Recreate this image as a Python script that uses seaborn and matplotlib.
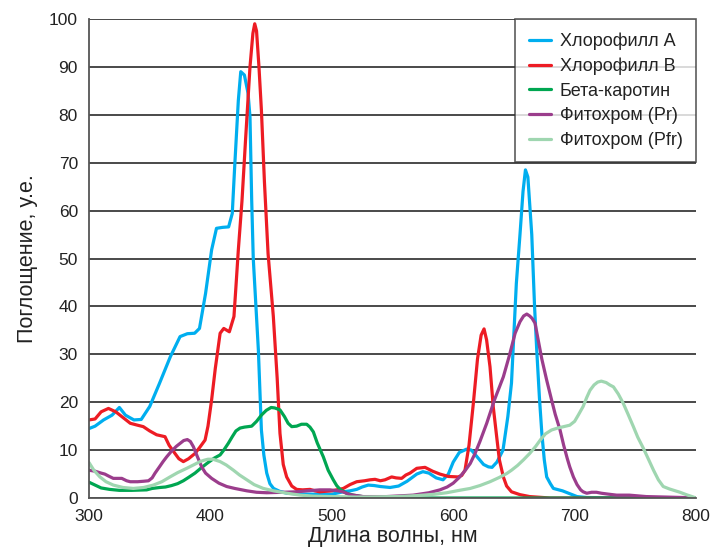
import matplotlib
matplotlib.use("Agg")
import matplotlib.pyplot as plt
import seaborn as sns
import pandas as pd

# wavelength (nm) / absorbance (a.u.)
wl_a = [300, 305, 312, 319, 325, 330, 337, 343, 350, 358, 367, 375, 381, 387, 391, 396, 401, 405,
        410, 415, 418, 420, 423, 425, 428, 431, 432.6, 434, 435.3, 437.5, 439.5, 442, 444, 446.4,
        449, 452, 457, 463, 470, 480, 490, 500, 509.5, 515, 520.5, 525, 530, 535, 540, 548, 555,
        562, 570, 575, 580, 586, 591.6, 596, 600, 605, 611, 615, 620, 625, 629, 632, 636, 641,
        645, 648, 652, 655, 657.5, 659.5, 661.5, 664.7, 667, 668.8, 671, 673, 675, 677, 680,
        682.5, 690, 697, 702, 710, 750, 800]
abs_a = [14.5, 15, 16.3, 17.3, 18.9, 17.3, 16.3, 16.4, 19.1, 23.9, 29.5, 33.7, 34.3, 34.4, 35.4,
         42.7, 51.8, 56.3, 56.5, 56.6, 59.4, 69.2, 83, 89, 88.3, 84.5, 79.6, 62.2, 50, 40, 30.9,
         14.2, 9, 5.2, 3, 2, 1.4, 1, 0.9, 0.8, 0.8, 0.8, 1.3, 1.5, 1.8, 2.3, 2.7, 2.6, 2.4, 2.2,
         2.5, 3.5, 5, 5.5, 5.2, 4.2, 3.8, 5, 7.5, 9.5, 10.2, 10, 8.5, 7, 6.5, 6.4, 7.5, 10, 17,
         24, 44.8, 55, 64, 68.5, 67, 55, 40, 30.9, 21, 13.5, 8, 4.4, 3, 2.0, 1.5, 0.8, 0.3, 0.1,
         0, 0]

wl_b = [300, 305, 310, 316, 322, 328, 334, 340, 344.7, 350, 355.7, 362.6, 366, 370.8, 374, 377.7,
        382, 387.3, 391, 395.6, 398, 401, 404, 408, 411, 415.6, 419.4, 421, 423, 426, 429, 432.6,
        435, 436.5, 438, 440, 442, 444.5, 447.5, 451.8, 455, 457.3, 460, 462.8, 467, 471, 476, 482,
        486, 490, 500, 509.5, 515, 520.5, 527, 531.5, 535.6, 540, 543.8, 549.3, 553, 557.5, 561,
        564.4, 570, 576.8, 583, 589, 596, 604, 607, 609.7, 613, 616.6, 620, 623, 625.4, 627.5,
        630.3, 633, 635.8, 638, 641.3, 644, 648, 655, 663, 680, 800]
abs_b = [16.3, 16.5, 18, 18.7, 18, 16.8, 15.6, 15.2, 14.9, 14, 13.2, 12.8, 11, 9.3, 8.2, 7.6, 8.2,
         9.3, 10.5, 12.1, 15, 20.5, 27, 34.4, 35.4, 34.7, 37.9, 44, 51.8, 62, 75, 90, 97, 99, 97.5,
         90, 81, 66, 51, 38, 25, 13.5, 7, 4.4, 2.5, 1.8, 1.7, 1.8, 1.5, 1.3, 1.5, 2.0, 2.8, 3.4,
         3.6, 3.8, 3.9, 3.6, 3.8, 4.4, 4.2, 4.1, 4.8, 5.2, 6.2, 6.4, 5.6, 5.0, 4.5, 4.4, 4.7, 5.8,
         11, 19.8, 29, 34, 35.3, 33, 27.4, 19, 12.8, 8, 4.4, 2.5, 1.3, 0.7, 0.3, 0, 0]

wl_car = [300, 305, 310, 317, 325, 335, 347.5, 352, 358.5, 363, 368, 373, 377.7, 382, 387.3, 392,
          397, 403, 408, 411, 414.7, 418, 421, 424.4, 428, 434, 438, 442, 446, 450, 453, 457.3,
          461, 464, 467, 471, 475, 479.3, 482, 484.8, 488, 493, 497, 501.2, 504, 506.8, 512,
          517.7, 525, 540, 560, 800]
abs_car = [3.3, 2.7, 2.1, 1.8, 1.6, 1.6, 1.7, 2.0, 2.2, 2.3, 2.6, 3.0, 3.6, 4.3, 5.2, 6.2, 7.2,
           8.3, 9.0, 10, 11.4, 12.8, 14, 14.6, 14.8, 15.0, 16, 17.3, 18.3, 18.9, 18.8, 18.4, 17,
           15.6, 14.9, 15, 15.4, 15.4, 14.8, 13.8, 11.5, 8.6, 5.8, 3.8, 2.6, 1.8, 1.0, 0.6, 0.3,
           0.1, 0, 0]

wl_pr = [300, 305, 310, 313, 316, 320, 327, 331, 334, 340, 345, 349, 352, 354.4, 358, 361, 364,
         368, 372, 375, 378, 381, 383.5, 386, 389, 392.8, 396, 401, 407, 413.4, 420, 430, 438,
         446.4, 460, 471, 480, 490, 498.5, 505, 509, 515, 526, 545, 567, 580, 589, 595, 600, 605,
         610, 614, 618, 622, 627.6, 634, 641.3, 646, 651, 655, 658, 660.6, 663, 665, 667.4, 670,
         673, 677, 681, 684, 688, 691, 694, 696, 699, 702, 705, 707, 710, 714, 718, 722, 728,
         734.6, 745, 759, 775, 790, 800]
abs_pr = [5.8, 5.6, 5.2, 5.0, 4.6, 4.1, 4.1, 3.6, 3.4, 3.4, 3.5, 3.6, 4.2, 5.2, 6.5, 7.6, 8.6,
          9.8, 10.8, 11.4, 12.0, 12.2, 11.8, 10.7, 8.8, 6.5, 5.2, 4.1, 3.1, 2.4, 2.0, 1.5, 1.2,
          1.1, 1.2, 1.3, 1.5, 1.7, 1.7, 1.5, 1.3, 0.7, 0.3, 0.3, 0.6, 1.1, 1.7, 2.3, 3.1, 4.3,
          5.8, 7.2, 9.3, 11.8, 15.6, 20.5, 25.3, 29.5, 34.4, 36.8, 38, 38.4, 38, 37.5, 36.5, 33,
          29, 24.6, 20.5, 17.5, 14.2, 11, 8.2, 6.5, 4.4, 2.8, 1.7, 1.3, 1.0, 1.2, 1.2, 1.0, 0.8,
          0.6, 0.6, 0.3, 0.2, 0.1, 0]

wl_pfr = [300, 304, 309, 314, 320, 328, 336.5, 345, 353, 360, 366.7, 373, 380.5, 386, 391.4, 395,
          398, 402, 408, 413, 419, 424, 430, 436, 443.6, 452, 463, 474, 484.5, 500, 520, 553.4,
          570, 585, 594.6, 605, 614, 622, 630.3, 638, 644, 648, 653, 658, 663, 668, 672, 676,
          681, 686, 691, 696, 700, 703, 707, 710, 712.7, 716, 719, 722, 726, 729, 732, 736, 740,
          744, 748.4, 752, 756.6, 761, 765, 769, 773, 778, 783, 786.8, 792, 799, 800]
abs_pfr = [7.4, 5.8, 4.4, 3.4, 2.7, 2.2, 2.0, 2.2, 2.7, 3.4, 4.4, 5.3, 6.2, 6.9, 7.6, 7.9, 8.1,
           8.1, 7.6, 6.9, 5.8, 4.8, 3.8, 2.8, 2.0, 1.5, 1.0, 0.6, 0.4, 0.3, 0.2, 0.3, 0.5, 0.8,
           1.1, 1.6, 2.0, 2.6, 3.4, 4.3, 5.1, 5.8, 6.8, 8.0, 9.3, 10.8, 12.2, 13.4, 14.2, 14.6,
           14.9, 15.2, 16.0, 17.3, 19.1, 21.0, 22.5, 23.6, 24.2, 24.4, 24.1, 23.6, 23.2, 21.7,
           19.8, 17.5, 14.9, 12.7, 10.4, 8.0, 5.8, 3.8, 2.4, 1.9, 1.5, 1.2, 0.7, 0.1, 0]

names = ["Хлорофилл А", "Хлорофилл В", "Бета-каротин", "Фитохром (Pr)", "Фитохром (Pfr)"]
colors = ["#00aeef", "#ed1c24", "#00a651", "#9b3d8c", "#9fd6b0"]
series = [(wl_a, abs_a), (wl_b, abs_b), (wl_car, abs_car), (wl_pr, abs_pr), (wl_pfr, abs_pfr)]

frames = []
for name, (x, y) in zip(names, series):
    frames.append(pd.DataFrame({"wl": x, "abs": y, "pigment": name}))
df = pd.concat(frames, ignore_index=True)

sns.set_style("white")
plt.rcParams["font.family"] = ["Liberation Sans", "DejaVu Sans"]

fig = plt.figure(figsize=(7.26, 5.52), dpi=100)
ax = fig.add_axes([0.1226, 0.0978, 0.8361, 0.8678])

sns.lineplot(data=df, x="wl", y="abs", hue="pigment", hue_order=names,
             palette=dict(zip(names, colors)), linewidth=2.3, estimator=None,
             sort=False, ax=ax, legend=False)

ax.set_xlim(300, 800)
ax.set_ylim(0, 100)
ax.set_xticks(range(300, 801, 100))
ax.set_yticks(range(0, 101, 10))
ax.yaxis.grid(True, color="#3a3a3a", linewidth=1.3)
ax.xaxis.grid(False)
ax.set_axisbelow(True)
for s in ["top", "right"]:
    ax.spines[s].set_visible(False)
for s in ["left", "bottom"]:
    ax.spines[s].set_color("#555555")
    ax.spines[s].set_linewidth(1.3)
ax.tick_params(axis="both", direction="out", length=5, width=1.2, color="#555555",
               labelsize=12.5, labelcolor="#222222", pad=3)
ax.set_xlabel("Длина волны, нм", fontsize=15.5, color="#222222", labelpad=1)
ax.set_ylabel("Поглощение, у.е.", fontsize=15.5, color="#222222", labelpad=8)

handles = [plt.Line2D([], [], color=c, linewidth=2.3) for c in colors]
leg = ax.legend(handles, names, loc="upper right", bbox_to_anchor=(1.0, 1.0),
                borderaxespad=0, fancybox=False, frameon=True, edgecolor="#333333",
                handlelength=1.2, handletextpad=0.5, labelspacing=0.42, borderpad=0.75,
                prop={"size": 13})
leg.get_frame().set_linewidth(1.2)
for t in leg.get_texts():
    t.set_color("#222222")

fig.savefig("out.png", dpi=100, facecolor="white")
